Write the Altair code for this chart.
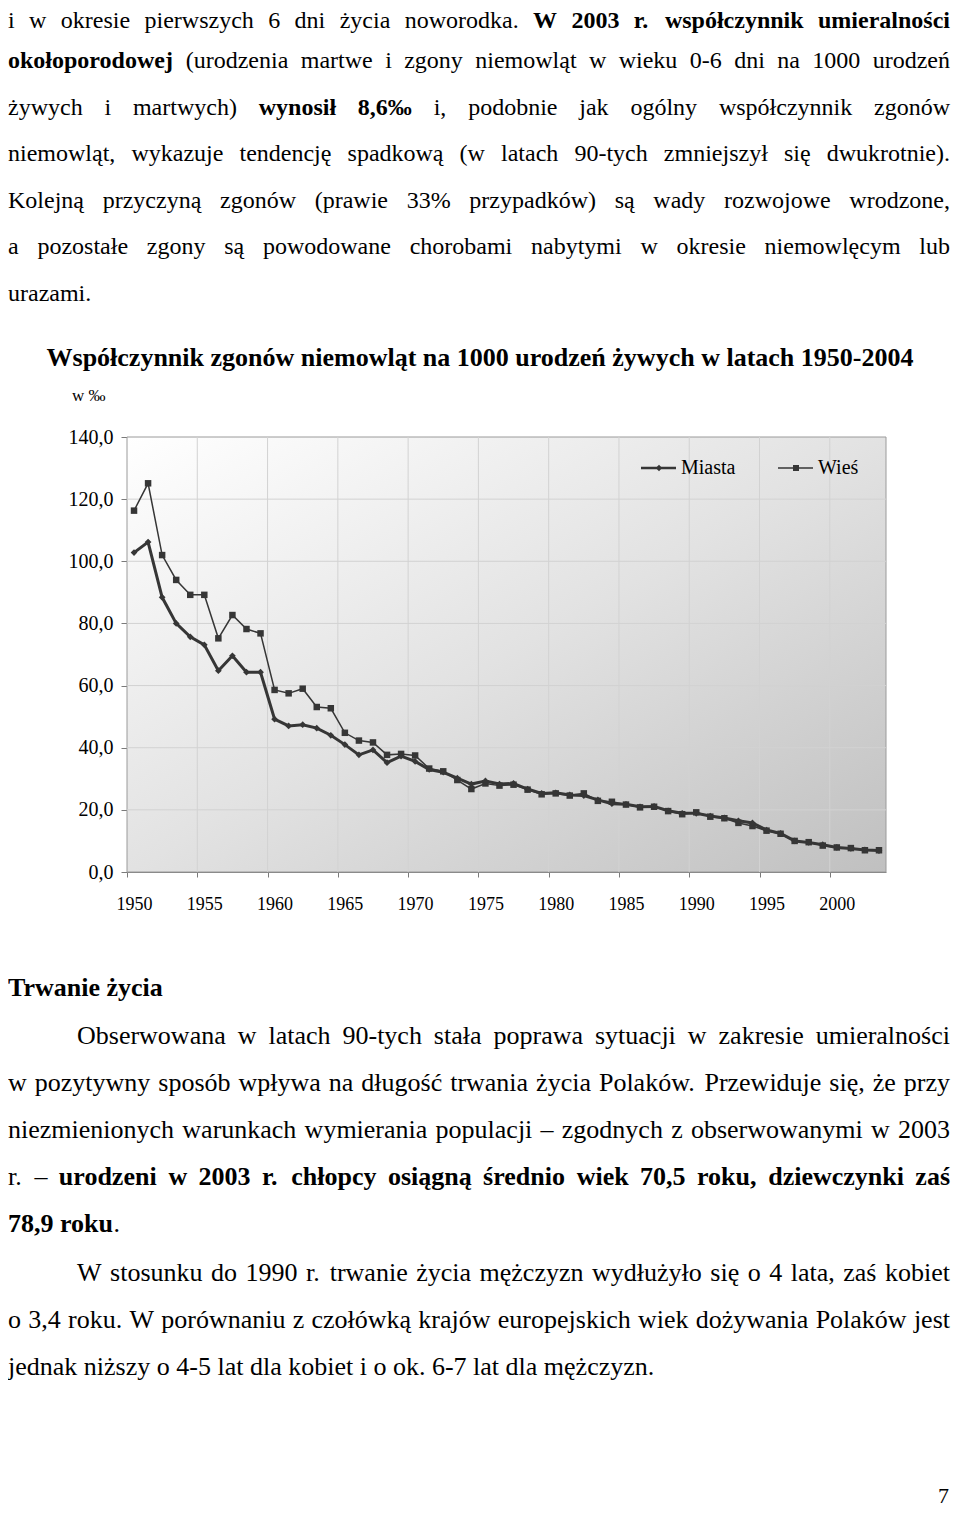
import altair as alt
import pandas as pd

# ---------------- data ----------------
years = list(range(1950, 2004))
miasta = [102.8, 106.2, 88.4, 80.0, 75.7, 73.1, 64.8, 69.6, 64.3, 64.3,
          49.2, 47.0, 47.4, 46.3, 44.0, 41.0, 37.7, 39.3, 35.2, 37.3,
          35.6, 33.0, 32.1, 30.2, 28.3, 29.3, 28.3, 28.5, 26.7, 25.3,
          25.5, 24.8, 24.6, 23.2, 22.0, 21.8, 21.0, 21.1, 19.7, 18.9,
          18.9, 18.0, 17.4, 16.5, 15.8, 13.5, 12.4, 10.0, 9.5, 8.8,
          7.9, 7.6, 7.1, 6.9]
wies = [116.3, 125.1, 102.0, 94.0, 89.2, 89.2, 75.2, 82.7, 78.2, 76.8,
        58.6, 57.5, 59.0, 53.1, 52.7, 44.8, 42.3, 41.7, 37.7, 38.0,
        37.5, 33.3, 32.4, 29.6, 26.7, 28.5, 27.8, 28.1, 26.5, 25.0,
        25.3, 24.6, 25.3, 22.9, 22.6, 21.7, 20.8, 21.0, 19.6, 18.6,
        19.2, 17.8, 17.3, 15.8, 14.8, 13.3, 12.3, 10.0, 9.6, 8.5,
        7.9, 7.7, 7.0, 7.0]
series_names = ["Miasta", "Wieś"]
y_ticks = [0, 20, 40, 60, 80, 100, 120, 140]
x_label_years = [1950, 1955, 1960, 1965, 1970, 1975, 1980, 1985, 1990, 1995, 2000]

chart_title = "Współczynnik zgonów niemowląt na 1000 urodzeń żywych w latach 1950-2004"
unit_label = "w ‰"

# page text: each line is a list of (text, bold) runs
para_top = [
    [("i w okresie pierwszych 6 dni życia noworodka. ", False),
     ("W 2003 r. współczynnik umieralności", True)],
    [("okołoporodowej", True),
     (" (urodzenia martwe i zgony niemowląt w wieku 0-6 dni na 1000 urodzeń", False)],
    [("żywych i martwych) ", False), ("wynosił 8,6‰", True),
     (" i, podobnie jak ogólny współczynnik zgonów", False)],
    [("niemowląt, wykazuje tendencję spadkową (w latach 90-tych zmniejszył się dwukrotnie).", False)],
    [("Kolejną przyczyną zgonów (prawie 33% przypadków) są wady rozwojowe wrodzone,", False)],
    [("a pozostałe zgony są powodowane chorobami nabytymi w okresie niemowlęcym lub", False)],
    [("urazami.", False)],
]
section_title = "Trwanie życia"
para_life1 = [
    [("Obserwowana w latach 90-tych stała poprawa sytuacji w zakresie umieralności", False)],
    [("w pozytywny sposób wpływa na długość trwania życia Polaków. Przewiduje się, że przy", False)],
    [("niezmienionych warunkach wymierania populacji – zgodnych z obserwowanymi w 2003", False)],
    [("r. – ", False), ("urodzeni w 2003 r. chłopcy osiągną średnio wiek 70,5 roku, dziewczynki zaś", True)],
    [("78,9 roku", True), (".", False)],
]
para_life2 = [
    [("W stosunku do 1990 r. trwanie życia mężczyzn wydłużyło się o 4 lata, zaś kobiet", False)],
    [("o 3,4 roku. W porównaniu z czołówką krajów europejskich wiek dożywania Polaków jest", False)],
    [("jednak niższy o 4-5 lat dla kobiet i o ok. 6-7 lat dla mężczyzn.", False)],
]
page_number = "7"

# ---------------- layout ----------------
PX0, PY0 = 127, 437      # page position of plot-area origin
W, H = 759, 435
CANVAS_W, CANVAS_H = 944, 1499
PAD_L, PAD_T = PX0 - 8, PY0 - 8
PAD_R = CANVAS_W - PAD_L - W
PAD_B = CANVAS_H - PAD_T - H
FONT = "'Liberation Serif', 'Times New Roman', Times, serif"
INK = "#363636"

df = pd.DataFrame({
    "Rok": years * 2,
    "Wartość": miasta + wies,
    "Seria": [series_names[0]] * len(years) + [series_names[1]] * len(years),
})

x_scale = alt.Scale(domain=[years[0] - 0.5, years[-1] + 0.5], nice=False, zero=False)
y_scale = alt.Scale(domain=[y_ticks[0], y_ticks[-1]], nice=False)
boundaries = [y - 0.5 for y in x_label_years]

x_axis = alt.Axis(
    values=boundaries, labelExpr="format(datum.value + 0.5, 'd')",
    labelOffset=7, tickSize=5, labelPadding=18, grid=False, title=None,
    domainColor="#7a7a7a", tickColor="#7a7a7a", labelFont=FONT,
    labelFontSize=18, labelColor="#000000", labelFlush=False, labelOverlap=False,
)
y_axis = alt.Axis(
    values=y_ticks, labelExpr="replace(format(datum.value, '.1f'), '.', ',')",
    tickSize=6, labelPadding=8, grid=False, title=None,
    domainColor="#7a7a7a", tickColor="#7a7a7a", labelFont=FONT,
    labelFontSize=20, labelColor="#000000", labelFlush=False, labelOverlap=False,
)

dummy = alt.Data(values=[{"k": 1}])

bg = alt.Chart(dummy).mark_rect(
    color=alt.LinearGradient(
        gradient="linear", x1=0, y1=0, x2=1, y2=1,
        stops=[alt.GradientStop(offset=0, color="#ffffff"),
               alt.GradientStop(offset=0.5, color="#e2e2e2"),
               alt.GradientStop(offset=1, color="#c0c0c0")]),
    stroke="#9a9a9a", strokeWidth=1,
).encode(x=alt.value(0), x2=alt.value(W), y=alt.value(0), y2=alt.value(H))

hgrid = alt.Chart(pd.DataFrame({"Wartość": y_ticks[1:-1]})).mark_rule(
    color="#d2d2d2", strokeWidth=1
).encode(y=alt.Y("Wartość:Q", scale=y_scale, axis=y_axis))

vgrid = alt.Chart(pd.DataFrame({"Rok": boundaries[1:]})).mark_rule(
    color="#d2d2d2", strokeWidth=1
).encode(x=alt.X("Rok:Q", scale=x_scale, axis=x_axis))

base = alt.Chart(df)
enc_x = alt.X("Rok:Q", scale=x_scale, axis=x_axis)
enc_y = alt.Y("Wartość:Q", scale=y_scale, axis=y_axis)

m_data = base.transform_filter(alt.datum.Seria == series_names[0])
w_data = base.transform_filter(alt.datum.Seria == series_names[1])
m_line = m_data.mark_line(color=INK, strokeWidth=3).encode(x=enc_x, y=enc_y)
m_pts = m_data.mark_point(shape="diamond", filled=True, color=INK, size=45,
                          opacity=1).encode(x=enc_x, y=enc_y)
w_line = w_data.mark_line(color=INK, strokeWidth=1.5).encode(x=enc_x, y=enc_y)
w_pts = w_data.mark_point(shape="square", filled=True, color=INK, size=42,
                          opacity=1).encode(x=enc_x, y=enc_y)

# legend (manual, inside plot area)
legend_layers = []
leg_y = 468 - PY0
for name, x0, shape, sw, sz in [(series_names[0], 641, "diamond", 2.5, 40),
                                (series_names[1], 778, "square", 1.5, 36)]:
    legend_layers.append(alt.Chart(dummy).mark_rule(color=INK, strokeWidth=sw).encode(
        x=alt.value(x0 - PX0), x2=alt.value(x0 + 35 - PX0), y=alt.value(leg_y)))
    legend_layers.append(alt.Chart(dummy).mark_point(
        shape=shape, filled=True, color=INK, size=sz, opacity=1).encode(
        x=alt.value(x0 + 18 - PX0), y=alt.value(leg_y)))
    legend_layers.append(alt.Chart(dummy).mark_text(
        text=name, align="left", baseline="middle", font=FONT, fontSize=20,
        color="#000000").encode(x=alt.value(x0 + 40 - PX0), y=alt.value(leg_y)))

# ---------------- text layout (Times metrics, 1/1000 em) ----------------
REG = {" ": 250, "%": 833, "(": 333, ")": 333, ",": 250, "-": 333, ".": 250,
       ":": 278, "–": 500, "‰": 1000,
       "A": 722, "B": 667, "C": 667, "D": 722, "E": 611, "F": 556, "G": 722,
       "H": 722, "I": 333, "J": 389, "K": 722, "L": 611, "M": 889, "N": 722,
       "O": 722, "P": 556, "R": 667, "S": 556, "T": 611, "U": 722, "W": 944,
       "Z": 611, "a": 444, "b": 500, "c": 444, "d": 500, "e": 444, "f": 333,
       "g": 500, "h": 500, "i": 278, "j": 278, "k": 500, "l": 278, "m": 778,
       "n": 500, "o": 500, "p": 500, "q": 500, "r": 333, "s": 389, "t": 278,
       "u": 500, "v": 500, "w": 722, "x": 500, "y": 500, "z": 444,
       "ą": 444, "ę": 444, "ó": 500, "ś": 389, "ć": 444, "ń": 500, "ż": 444,
       "ź": 444, "ł": 278}
BLD = dict(REG)
BLD.update({"%": 1000, "A": 722, "B": 667, "C": 722, "D": 722, "E": 667,
            "F": 611, "G": 778, "H": 778, "I": 389, "J": 500, "K": 778,
            "L": 667, "M": 944, "N": 722, "O": 778, "P": 611, "R": 722,
            "T": 667, "W": 1000, "Z": 667, "a": 500, "b": 556, "d": 556,
            "h": 556, "j": 333, "k": 556, "m": 833, "n": 556, "p": 556,
            "q": 556, "r": 444, "t": 333, "u": 556, "ą": 500, "ń": 556})


def text_w(s, bold, size):
    table = BLD if bold else REG
    return sum(table.get(ch, 500) for ch in s) * size / 1000.0


def split_words(runs):
    words = []          # each word: list of (piece, bold)
    joinable = False
    for text, bold in runs:
        parts = text.split(" ")
        for i, p in enumerate(parts):
            if p == "":
                joinable = False
                continue
            if i == 0 and joinable and words:
                words[-1].append((p, bold))
            else:
                words.append([(p, bold)])
            joinable = True
        if text.endswith(" "):
            joinable = False
    return words


def word_layers(runs, x_left, x_right, y_base, size, justify):
    words = split_words(runs)
    widths = [sum(text_w(p, b, size) for p, b in w) for w in words]
    space = text_w(" ", False, size)
    if justify and len(words) > 1:
        gap = (x_right - x_left - sum(widths)) / (len(words) - 1)
    else:
        gap = space
    layers = []
    x = x_left
    for w, wd in zip(words, widths):
        px = x
        for piece, bold in w:
            layers.append(alt.Chart(dummy).mark_text(
                text=piece, align="left", baseline="alphabetic", font=FONT,
                fontSize=size, fontWeight="bold" if bold else "normal",
                color="#000000",
            ).encode(x=alt.value(px - PX0), y=alt.value(y_base - PY0)))
            px += text_w(piece, bold, size)
        x += wd + gap
    return layers


def paragraph(lines, x_left, x_right, y0, step, size, indent=0):
    layers = []
    for i, runs in enumerate(lines):
        last = i == len(lines) - 1
        xl = x_left + (indent if i == 0 else 0)
        layers += word_layers(runs, xl, x_right, y0 + i * step, size, not last)
    return layers


def txt(s, x_page, y_page, size, bold=False, align="left"):
    return alt.Chart(dummy).mark_text(
        text=s, align=align, baseline="alphabetic", font=FONT, fontSize=size,
        fontWeight="bold" if bold else "normal", color="#000000",
    ).encode(x=alt.value(x_page - PX0), y=alt.value(y_page - PY0))


L, R = 8, 950
text_layers = []
text_layers += word_layers(para_top[0], L, R, 28, 24, True)
text_layers += paragraph(para_top[1:], L, R, 68, 46.5, 24)
text_layers.append(txt(chart_title, 480, 366, 26, True, "center"))
text_layers.append(txt(unit_label, 72, 401, 17))
text_layers.append(txt(section_title, L, 996, 26, True))
text_layers += paragraph(para_life1, L, R, 1044, 47, 26, indent=69)
text_layers += paragraph(para_life2, L, R, 1281, 47, 26, indent=69)
text_layers.append(txt(page_number, 949, 1503, 22, False, "right"))

chart = alt.layer(
    bg, hgrid, vgrid, w_line, w_pts, m_line, m_pts, *legend_layers, *text_layers
).properties(
    width=W, height=H,
    padding={"left": PAD_L, "top": PAD_T, "right": PAD_R, "bottom": PAD_B},
    autosize=alt.AutoSizeParams(type="none"),
    background="#ffffff",
).configure_view(stroke=None)

chart.save("out.html", embed_options={"renderer": "svg", "actions": False})
